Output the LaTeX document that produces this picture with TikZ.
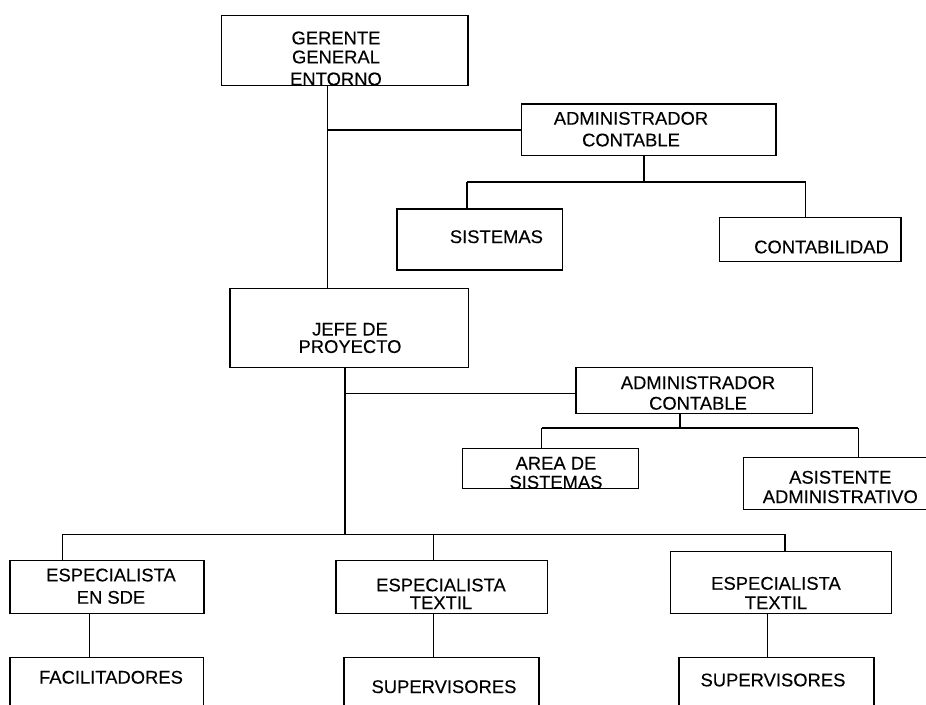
\documentclass[tikz,border=0pt]{standalone}
\usepackage{fontspec}
\setmainfont{Liberation Sans}
\newfontfamily\lblfont{Liberation Sans}[FakeBold=0.2]
\tikzset{
  box/.style={draw, line width=1.1pt, inner sep=0pt},
  lbl/.style={inner sep=0pt, align=center, font=\lblfont\fontsize{18.4}{#1}\selectfont},
  lbl/.default=19,
  conn/.style={draw, line width=1.1pt}
}
\begin{document}
\begin{tikzpicture}[x=1pt,y=-1pt]
\useasboundingbox (0,0) rectangle (926,704);
\fill[white] (0,0) rectangle (926,704);
\clip (0,0) rectangle (926,704);

% boxes
\node[box, minimum width=246.3pt, minimum height=70pt] (gg) at (344.85,50.7) {};
\node[box, minimum width=254.5pt, minimum height=51.7pt] (ad1) at (648.75,129.85) {};
\node[box, minimum width=165.7pt, minimum height=61pt] (sis) at (479.85,239.5) {};
\node[box, minimum width=181.7pt, minimum height=44pt] (con) at (810.15,239.7) {};
\node[box, minimum width=238.3pt, minimum height=79pt] (jefe) at (349.15,327.8) {};
\node[box, minimum width=236.7pt, minimum height=46pt] (ad2) at (694.35,390.3) {};
\node[box, minimum width=176pt, minimum height=40pt] (area) at (550.3,468.3) {};
\node[box, minimum width=196.7pt, minimum height=52.2pt] (asis) at (841.65,483.4) {};
\node[box, minimum width=194pt, minimum height=52.6pt] (esp1) at (107,587) {};
\node[box, minimum width=211.7pt, minimum height=52.6pt] (esp2) at (441.85,587) {};
\node[box, minimum width=221pt, minimum height=61.6pt] (esp3) at (781.2,582.5) {};
\node[box, minimum width=193.3pt, minimum height=72.3pt] (fac) at (106.65,693.85) {};
\node[box, minimum width=195pt, minimum height=72.3pt] (sup2) at (441.5,693.85) {};
\node[box, minimum width=195pt, minimum height=72.3pt] (sup3) at (776.5,693.85) {};

% labels
\node[lbl] (gg-t) at (336,58.5) {GERENTE\\GENERAL\\[3pt]ENTORNO};
\node[lbl=21.7] (ad1-t) at (631,129.2) {ADMINISTRADOR\\CONTABLE};
\node[lbl] (sis-t) at (496.4,236.7) {SISTEMAS};
\node[lbl] (con-t) at (821.5,247) {CONTABILIDAD};
\node[lbl=17.4] (jefe-t) at (350,338) {JEFE DE\\PROYECTO};
\node[lbl=20.6] (ad2-t) at (698,393) {ADMINISTRADOR\\CONTABLE};
\node[lbl] (area-t) at (556,472.8) {AREA DE\\SISTEMAS};
\node[lbl=19.4] (asis-t) at (840.3,487) {ASISTENTE\\ADMINISTRATIVO};
\node[lbl=22.3] (esp1-t) at (111,586.2) {ESPECIALISTA\\EN SDE};
\node[lbl] (fac-t) at (111,677.3) {FACILITADORES};
\node[lbl=17.7] (esp2-t) at (441,593.8) {ESPECIALISTA\\TEXTIL};
\node[lbl] (sup2-t) at (444,686.7) {SUPERVISORES};
\node[lbl=19.4] (esp3-t) at (776,593) {ESPECIALISTA\\TEXTIL};
\node[lbl] (sup3-t) at (773,680) {SUPERVISORES};

% junction coordinates
\coordinate (t1) at (327.3,130);
\coordinate (b1) at (644,182);
\coordinate (s1) at (467,182);
\coordinate (c1) at (805.7,182);
\coordinate (t2) at (345,393.3);
\coordinate (b2) at (680,428);
\coordinate (a2) at (541.7,428);
\coordinate (r2) at (858.3,428);
\coordinate (t3) at (345,534.3);
\coordinate (e1) at (62.7,534.3);
\coordinate (e2) at (433.3,534.3);
\coordinate (e3) at (785,534.3);
\coordinate (f1) at (89.3,0);
\coordinate (f2) at (433.3,0);
\coordinate (f3) at (767.3,0);

% connectors
\path[conn] (gg.south -| t1) -- (jefe.north -| t1);
\path[conn] (t1) -- (ad1.west |- t1);
\path[conn] (ad1.south -| b1) -- (b1);
\path[conn] (s1) -- (c1);
\path[conn] (s1) -- (sis.north -| s1);
\path[conn] (c1) -- (con.north -| c1);
\path[conn] (jefe.south -| t2) -- (t3);
\path[conn] (t2) -- (ad2.west |- t2);
\path[conn] (ad2.south -| b2) -- (b2);
\path[conn] (a2) -- (r2);
\path[conn] (a2) -- (area.north -| a2);
\path[conn] (r2) -- (asis.north -| r2);
\path[conn] (e1) -- (e3);
\path[conn] (e1) -- (esp1.north -| e1);
\path[conn] (e2) -- (esp2.north -| e2);
\path[conn] (e3) -- (esp3.north -| e3);
\path[conn] (esp1.south -| f1) -- (fac.north -| f1);
\path[conn] (esp2.south -| f2) -- (sup2.north -| f2);
\path[conn] (esp3.south -| f3) -- (sup3.north -| f3);
\end{tikzpicture}
\end{document}
